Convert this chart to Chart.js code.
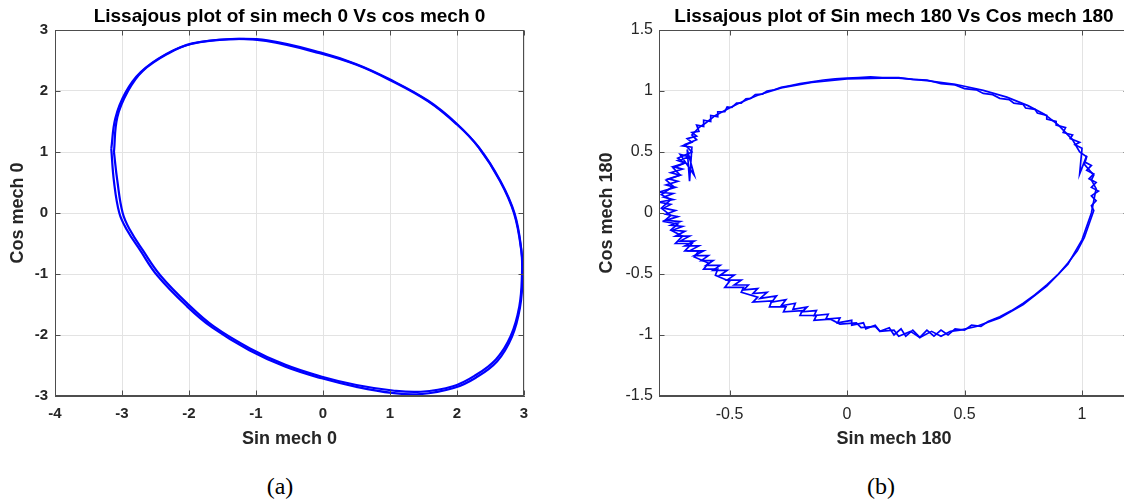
<!DOCTYPE html>
<html>
<head>
<meta charset="utf-8">
<script src="https://cdn.jsdelivr.net/npm/chart.js@4.4.1/dist/chart.umd.min.js"></script>
<style>
  body { margin: 0; width: 1124px; height: 501px; overflow: hidden; background: #fff; position: relative; }
  canvas { position: absolute; top: 0; }
  #chartA { left: 0; }
  #chartB { left: 562px; }
  .cap { position: absolute; top: 472px; width: 100px; text-align: center; font: 24px "Liberation Serif", serif; line-height: 28px; color: #000; }
</style>
</head>
<body>
<canvas id="chartA" width="562" height="450"></canvas>
<canvas id="chartB" width="570" height="450"></canvas>
<div class="cap" style="left:230px">(a)</div>
<div class="cap" style="left:831px">(b)</div>
<script>
// (a) sin mech 0 vs cos mech 0, two laps
const sinA1 = [-3.12, -3.07, -2.91, -2.69, -2.32, -1.95, -1.36, -0.83, -0.03, 0.50, 0.98, 1.57, 2.00, 2.32, 2.64, 2.85, 2.96, 2.97, 2.93, 2.80, 2.58, 2.26, 1.94, 1.46, 1.04, 0.50, -0.03, -0.56, -1.09, -1.63, -2.00, -2.43, -2.69, -2.88, -2.99, -3.07, -3.12];
const cosA1 = [1.00, 1.57, 2.00, 2.33, 2.61, 2.78, 2.85, 2.83, 2.63, 2.44, 2.20, 1.84, 1.46, 1.08, 0.53, 0.00, -0.62, -1.00, -1.53, -2.02, -2.40, -2.67, -2.84, -2.93, -2.91, -2.82, -2.68, -2.49, -2.22, -1.86, -1.51, -1.02, -0.61, -0.28, 0.00, 0.53, 1.00];
const sinA2 = [-3.16, -3.10, -2.95, -2.72, -2.35, -1.97, -1.38, -0.85, -0.05, 0.50, 0.98, 1.57, 2.00, 2.33, 2.65, 2.86, 2.96, 2.98, 2.94, 2.82, 2.60, 2.28, 1.95, 1.45, 1.03, 0.50, -0.02, -0.56, -1.10, -1.65, -2.03, -2.47, -2.73, -2.93, -3.04, -3.12, -3.16];
const cosA2 = [1.05, 1.55, 1.97, 2.31, 2.60, 2.77, 2.85, 2.82, 2.62, 2.43, 2.19, 1.83, 1.45, 1.07, 0.52, -0.01, -0.60, -1.02, -1.55, -2.03, -2.43, -2.70, -2.87, -2.97, -2.95, -2.85, -2.71, -2.52, -2.25, -1.88, -1.53, -1.03, -0.61, -0.27, 0.00, 0.52, 1.05];

// (b) sin mech 180 vs cos mech 180, noisy; first lap in three stretches (top, left/bottom, right)
const sinB1 = [
    0.15, 0.10, 0.05, 0.00, -0.05, -0.10, -0.15, -0.20, -0.24, -0.28, -0.31, -0.34, -0.36, -0.39, -0.41, -0.43, -0.45, -0.47, -0.49, -0.51,
    -0.52, -0.55, -0.55, -0.58, -0.58, -0.61, -0.61, -0.64, -0.63, -0.66, -0.64, -0.68, -0.66, -0.70, -0.66,
    -0.67, -0.68, -0.65, -0.71, -0.67, -0.72, -0.69, -0.74, -0.70, -0.75, -0.71, -0.76, -0.72, -0.77, -0.73, -0.80, -0.74, -0.78, -0.74, -0.80,
    -0.75, -0.78, -0.73, -0.77, -0.72, -0.77, -0.71, -0.75, -0.70, -0.74, -0.69, -0.73, -0.67, -0.71, -0.65, -0.69, -0.63, -0.67, -0.61, -0.65,
    -0.59, -0.62, -0.57, -0.60, -0.54, -0.57, -0.51, -0.54, -0.48, -0.51, -0.45, -0.48, -0.42, -0.44, -0.38, -0.40, -0.34, -0.37, -0.30, -0.32,
    -0.26, -0.28, -0.22, -0.23, -0.17, -0.19, -0.13, -0.14, -0.08, -0.09, -0.03, -0.04, 0.02, 0.02, 0.07, 0.08, 0.12, 0.14, 0.18, 0.20,
    0.23, 0.25, 0.28, 0.31, 0.34, 0.37, 0.40, 0.43, 0.46, 0.50, 0.53, 0.57, 0.60,
    0.65, 0.70, 0.75, 0.80, 0.85, 0.90, 0.94, 0.98, 1.01, 1.03, 1.05, 1.04, 1.06, 1.04, 1.07, 1.04, 1.06, 1.03, 1.05, 1.02,
    1.04, 1.01, 1.02, 0.99, 1.00, 0.97, 0.99, 0.95, 0.96, 0.92, 0.93, 0.89, 0.89, 0.85, 0.85, 0.81, 0.80, 0.76, 0.75, 0.71,
    0.69, 0.65, 0.62, 0.58, 0.55, 0.50, 0.46, 0.40, 0.34, 0.28, 0.22, 0.15
];
const cosB1 = [
    1.11, 1.115, 1.11, 1.105, 1.10, 1.09, 1.075, 1.06, 1.045, 1.03, 1.01, 1.00, 0.975, 0.97, 0.94, 0.935, 0.90, 0.90, 0.865, 0.87,
    0.83, 0.83, 0.79, 0.80, 0.75, 0.76, 0.71, 0.72, 0.67, 0.66, 0.63, 0.61, 0.58, 0.55, 0.54,
    0.26, 0.52, 0.31, 0.48, 0.46, 0.43, 0.41, 0.38, 0.36, 0.33, 0.31, 0.28, 0.26, 0.23, 0.21, 0.17, 0.16, 0.13, 0.11, 0.09,
    0.07, 0.04, 0.02, -0.01, -0.03, -0.06, -0.07, -0.10, -0.11, -0.14, -0.15, -0.19, -0.19, -0.23, -0.23, -0.27, -0.27, -0.31, -0.31, -0.35,
    -0.35, -0.39, -0.39, -0.43, -0.43, -0.47, -0.47, -0.51, -0.51, -0.55, -0.55, -0.59, -0.59, -0.63, -0.62, -0.66, -0.65, -0.70, -0.68, -0.73,
    -0.71, -0.76, -0.74, -0.79, -0.77, -0.81, -0.80, -0.84, -0.83, -0.87, -0.86, -0.90, -0.88, -0.92, -0.90, -0.95, -0.92, -0.97, -0.94, -1.00,
    -0.95, -1.01, -0.96, -1.02, -0.96, -1.01, -0.96, -1.00, -0.95, -0.96, -0.92, -0.93, -0.89,
    -0.85, -0.80, -0.74, -0.67, -0.59, -0.50, -0.41, -0.31, -0.20, -0.09, 0.02, 0.06, 0.10, 0.14, 0.18, 0.21, 0.25, 0.28, 0.32, 0.35,
    0.39, 0.42, 0.47, 0.32, 0.53, 0.56, 0.58, 0.61, 0.64, 0.66, 0.70, 0.72, 0.75, 0.77, 0.80, 0.82, 0.85, 0.86, 0.89, 0.90,
    0.93, 0.94, 0.97, 0.98, 1.01, 1.02, 1.05, 1.06, 1.09, 1.095, 1.11, 1.11
];
const sinB2 = [0.15, 0.00, -0.15, -0.28, -0.38, -0.46, -0.50, -0.56, -0.60, -0.63, -0.66, -0.64, -0.69, -0.66, -0.72, -0.69, -0.74, -0.71, -0.77, -0.74, -0.79, -0.75, -0.79, -0.75, -0.78, -0.72, -0.75, -0.70, -0.73, -0.66, -0.69, -0.63, -0.65, -0.59, -0.61, -0.55, -0.56, -0.50, -0.52, -0.44, -0.45, -0.38, -0.40, -0.32, -0.33, -0.26, -0.27, -0.19, -0.20, -0.13, -0.14, -0.07, -0.03, 0.04, 0.06, 0.12, 0.14, 0.20, 0.22, 0.27, 0.31, 0.36, 0.40, 0.44, 0.48, 0.55, 0.65, 0.75, 0.85, 0.94, 1.00, 1.04, 1.05, 1.06, 1.04, 1.05, 1.01, 1.02, 0.99, 0.96, 0.90, 0.84, 0.77, 0.68, 0.58, 0.46, 0.34, 0.22, 0.15];
const cosB2 = [1.105, 1.10, 1.07, 1.025, 0.965, 0.90, 0.86, 0.80, 0.74, 0.70, 0.64, 0.60, 0.56, 0.50, 0.45, 0.41, 0.37, 0.31, 0.27, 0.22, 0.15, 0.11, 0.04, -0.02, -0.07, -0.09, -0.14, -0.19, -0.25, -0.25, -0.31, -0.31, -0.36, -0.41, -0.46, -0.46, -0.51, -0.56, -0.61, -0.61, -0.65, -0.69, -0.73, -0.72, -0.77, -0.77, -0.81, -0.80, -0.84, -0.84, -0.88, -0.87, -0.91, -0.90, -0.94, -0.93, -0.97, -0.96, -1.01, -0.97, -1.02, -0.97, -1.01, -0.97, -0.96, -0.93, -0.86, -0.75, -0.60, -0.42, -0.22, 0.00, 0.10, 0.20, 0.27, 0.31, 0.40, 0.46, 0.50, 0.60, 0.72, 0.81, 0.88, 0.95, 1.005, 1.055, 1.085, 1.105, 1.105];

// axis ticks
const xTicksA = [-4, -3, -2, -1, 0, 1, 2, 3];
const yTicksA = [-3, -2, -1, 0, 1, 2, 3];
const xTicksB = [-0.5, 0, 0.5, 1];
const yTicksB = [-1.5, -1, -0.5, 0, 0.5, 1, 1.5];

const pairs = (xs, ys) => xs.map((v, i) => ({ x: v, y: ys[i] }));

// matlab style box with inward ticks on all four sides
const boxPlugin = {
    id: 'box',
    afterDraw(chart) {
        const { ctx, chartArea: a, scales: { x, y } } = chart;
        const l = Math.round(a.left) + 0.5, r = Math.round(a.right) - 0.5;
        const t = Math.round(a.top) + 0.5, b = Math.round(a.bottom) - 0.5;
        ctx.save();
        ctx.strokeStyle = '#4d4d4d';
        ctx.lineWidth = 1;
        ctx.strokeRect(l, t, r - l, b - t);
        ctx.beginPath();
        x.ticks.forEach(tk => {
            const px = Math.round(x.getPixelForValue(tk.value)) + 0.5;
            ctx.moveTo(px, b); ctx.lineTo(px, b - 5);
            ctx.moveTo(px, t); ctx.lineTo(px, t + 5);
        });
        y.ticks.forEach(tk => {
            const py = Math.round(y.getPixelForValue(tk.value)) + 0.5;
            ctx.moveTo(l, py); ctx.lineTo(l + 5, py);
            ctx.moveTo(r, py); ctx.lineTo(r - 5, py);
        });
        ctx.stroke();
        ctx.restore();
    }
};

const fontFamily = '"Liberation Sans", Arial, sans-serif';
const tickColor = '#262626';
const gridColor = '#e3e3e3';

function axis(min, max, ticks, title, tickFont, tickPad, size, titlePad, horizontal) {
    return {
        type: 'linear',
        min: min,
        max: max,
        afterBuildTicks: s => { s.ticks = ticks.map(v => ({ value: v })); },
        afterFit: s => { if (horizontal) s.height = size; else s.width = size; },
        ticks: { font: tickFont, color: tickColor, padding: tickPad, callback: v => String(v) },
        grid: { color: gridColor, drawTicks: false },
        border: { color: '#4d4d4d' },
        title: {
            display: true,
            text: title,
            color: tickColor,
            font: { family: fontFamily, size: 18, weight: 'bold' },
            padding: { top: titlePad, bottom: 0 }
        }
    };
}

function makeChart(id, title, laps, xAxis, yAxis, padRight, tension, width) {
    return new Chart(document.getElementById(id), {
        type: 'scatter',
        data: {
            datasets: laps.map(lap => ({
                data: lap,
                showLine: true,
                borderColor: '#0000ff',
                borderWidth: width,
                pointRadius: 0,
                tension: tension
            }))
        },
        options: {
            responsive: false,
            animation: false,
            layout: { padding: { top: 0, right: padRight, left: 0, bottom: 0 } },
            plugins: {
                legend: { display: false },
                tooltip: { enabled: false },
                title: {
                    display: true,
                    text: title,
                    fullSize: false,
                    color: '#000',
                    font: { family: fontFamily, size: 19, weight: 'bold' },
                    padding: { top: 5, bottom: 2.2 }
                }
            },
            scales: { x: xAxis, y: yAxis }
        },
        plugins: [boxPlugin]
    });
}

const boldTick = { family: fontFamily, size: 15, weight: 'bold' };
const plainTick = { family: fontFamily, size: 16, weight: 'normal' };

makeChart('chartA', 'Lissajous plot of sin mech 0 Vs cos mech 0',
    [pairs(sinA1, cosA1), pairs(sinA2, cosA2)],
    axis(-4, 3, xTicksA, 'Sin mech 0', boldTick, 9, 54, 0, true),
    axis(-3, 3, yTicksA, 'Cos mech 0', boldTick, 7, 55, 7, false),
    38, 0.4, 2.2);

makeChart('chartB', 'Lissajous plot of Sin mech 180 Vs Cos mech 180',
    [pairs(sinB1, cosB1), pairs(sinB2, cosB2)],
    axis(-0.8, 1.2, xTicksB, 'Sin mech 180', plainTick, 9, 54, 0, true),
    axis(-1.5, 1.5, yTicksB, 'Cos mech 180', plainTick, 6, 97, 34, false),
    3, 0, 1.7);
</script>
</body>
</html>
